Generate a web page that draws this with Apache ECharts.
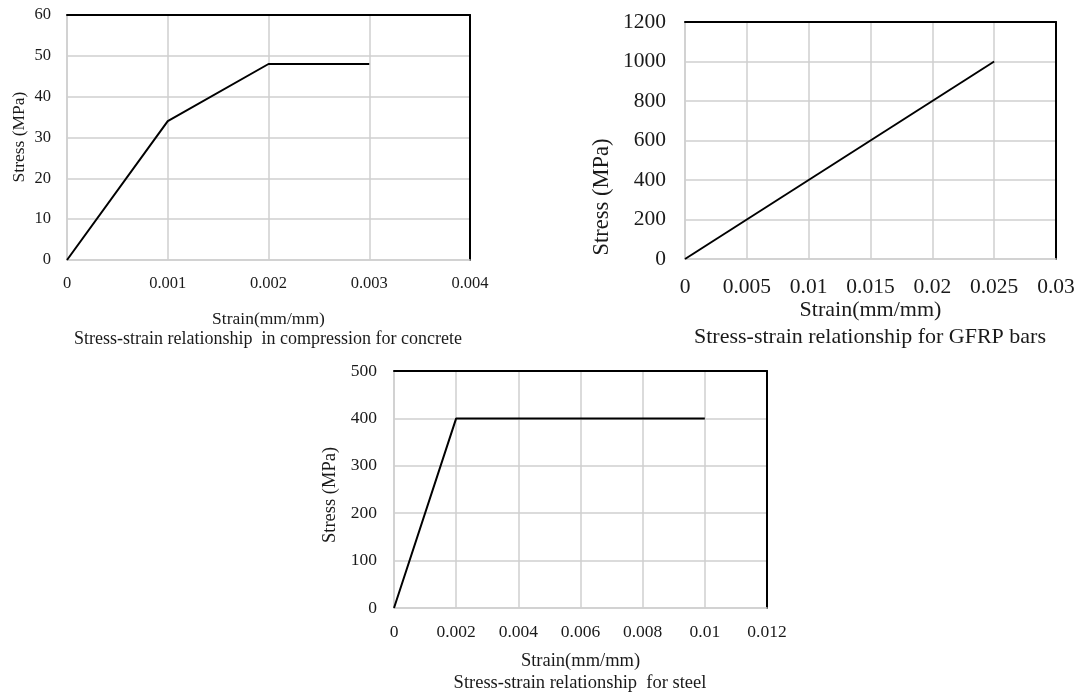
<!DOCTYPE html>
<html>
<head>
<meta charset="utf-8">
<script src="https://cdn.jsdelivr.net/npm/echarts@6/dist/echarts.min.js"></script>
<style>
  html, body { margin: 0; padding: 0; background: #fff; }
  #chart { width: 1080px; height: 694px; }
</style>
</head>
<body>
<div id="chart"></div>
<script>
// Concrete in compression
const concreteStrain = [0, 0.001, 0.002, 0.003];
const concreteStress = [0, 34, 48, 48];
const concreteXTicks = ['0', '0.001', '0.002', '0.003', '0.004'];
const concreteYTicks = ['0', '10', '20', '30', '40', '50', '60'];

// GFRP bars
const gfrpStrain = [0, 0.025];
const gfrpStress = [0, 1000];
const gfrpXTicks = ['0', '0.005', '0.01', '0.015', '0.02', '0.025', '0.03'];
const gfrpYTicks = ['0', '200', '400', '600', '800', '1000', '1200'];

// Steel
const steelStrain = [0, 0.002, 0.01];
const steelStress = [0, 400, 400];
const steelXTicks = ['0', '0.002', '0.004', '0.006', '0.008', '0.01', '0.012'];
const steelYTicks = ['0', '100', '200', '300', '400', '500'];

const titles = [
  'Stress-strain relationship  in compression for concrete',
  'Stress-strain relationship for GFRP bars',
  'Stress-strain relationship  for steel'
];
const xName = 'Strain(mm/mm)';
const yName = 'Stress (MPa)';

const FONT = '"Liberation Serif", "Times New Roman", serif';
const TXT = '#1a1a1a';
const GRID_C = '#cfcfcf';

const panels = [
  { strain: concreteStrain, stress: concreteStress, xt: concreteXTicks, yt: concreteYTicks,
    xi: 0.001, yi: 10, box: { left: 67, top: 15, width: 403, height: 245 },
    fs: 16.5, xMargin: 15, yMargin: 16, xNameGap: 50, nameFs: 17.5,
    yNamePos: [19, 137, 17.5], subPos: [268, 339, 18] },
  { strain: gfrpStrain, stress: gfrpStress, xt: gfrpXTicks, yt: gfrpYTicks,
    xi: 0.005, yi: 200, box: { left: 685, top: 22, width: 371, height: 237 },
    fs: 21.5, xMargin: 17, yMargin: 19, xNameGap: 38, nameFs: 22,
    yNamePos: [602, 197, 22.5], subPos: [870, 337, 22] },
  { strain: steelStrain, stress: steelStress, xt: steelXTicks, yt: steelYTicks,
    xi: 0.002, yi: 100, box: { left: 394, top: 371, width: 373, height: 237 },
    fs: 17.5, xMargin: 15, yMargin: 17, xNameGap: 44, nameFs: 18.5,
    yNamePos: [330, 495, 18.5], subPos: [580, 683, 18.5] }
];

const grid = [], xAxis = [], yAxis = [], series = [], graphic = [];

function vText(text, x, y, size) {
  return { type: 'text', x: x, y: y, rotation: Math.PI / 2,
    style: { text: text, font: size + 'px ' + FONT, fill: TXT, align: 'center', verticalAlign: 'middle' } };
}
function hText(text, x, y, size) {
  return { type: 'text', x: x, y: y,
    style: { text: text, font: size + 'px ' + FONT, fill: TXT, align: 'center', verticalAlign: 'middle' } };
}

panels.forEach((p, i) => {
  grid.push(Object.assign({ containLabel: false }, p.box));
  const xMax = p.xi * (p.xt.length - 1);
  const yMax = p.yi * (p.yt.length - 1);
  const lab = (arr, step) => v => arr[Math.round(v / step)] ?? '';
  // primary axes (grey, with labels and gridlines)
  xAxis.push({
    type: 'value', gridIndex: i, min: 0, max: xMax, interval: p.xi,
    name: xName, nameLocation: 'middle', nameGap: p.xNameGap,
    nameTextStyle: { fontFamily: FONT, fontSize: p.nameFs, color: TXT },
    axisLine: { show: true, lineStyle: { color: GRID_C, width: 1.5 } },
    axisTick: { show: false },
    axisLabel: { formatter: lab(p.xt, p.xi), fontFamily: FONT, fontSize: p.fs, color: TXT, margin: p.xMargin },
    splitLine: { show: true, lineStyle: { color: GRID_C, width: 1.5 } }
  });
  yAxis.push({
    type: 'value', gridIndex: i, min: 0, max: yMax, interval: p.yi,
    axisLine: { show: true, lineStyle: { color: GRID_C, width: 1.5 } },
    axisTick: { show: false },
    axisLabel: { formatter: lab(p.yt, p.yi), fontFamily: FONT, fontSize: p.fs, color: TXT, margin: p.yMargin },
    splitLine: { show: true, lineStyle: { color: GRID_C, width: 1.5 } }
  });
  // black top and right frame
  xAxis.push({
    type: 'value', gridIndex: i, min: 0, max: xMax, position: 'top',
    axisLine: { show: true, onZero: false, lineStyle: { color: '#000', width: 2 } },
    axisTick: { show: false }, axisLabel: { show: false }, splitLine: { show: false }
  });
  yAxis.push({
    type: 'value', gridIndex: i, min: 0, max: yMax, position: 'right',
    axisLine: { show: true, onZero: false, lineStyle: { color: '#000', width: 2 } },
    axisTick: { show: false }, axisLabel: { show: false }, splitLine: { show: false }
  });
  series.push({
    type: 'line', xAxisIndex: i * 2, yAxisIndex: i * 2,
    data: p.strain.map((s, k) => [s, p.stress[k]]),
    showSymbol: false, symbol: 'none', animation: false,
    lineStyle: { color: '#000', width: 2 }
  });
  graphic.push(vText(yName, p.yNamePos[0], p.yNamePos[1], p.yNamePos[2]));
  graphic.push(hText(titles[i], p.subPos[0], p.subPos[1], p.subPos[2]));
});

const chart = echarts.init(document.getElementById('chart'), null, { renderer: 'canvas' });

chart.setOption({
  backgroundColor: '#fff',
  animation: false,
  grid: grid,
  xAxis: xAxis,
  yAxis: yAxis,
  series: series,
  graphic: graphic
});
</script>
</body>
</html>
